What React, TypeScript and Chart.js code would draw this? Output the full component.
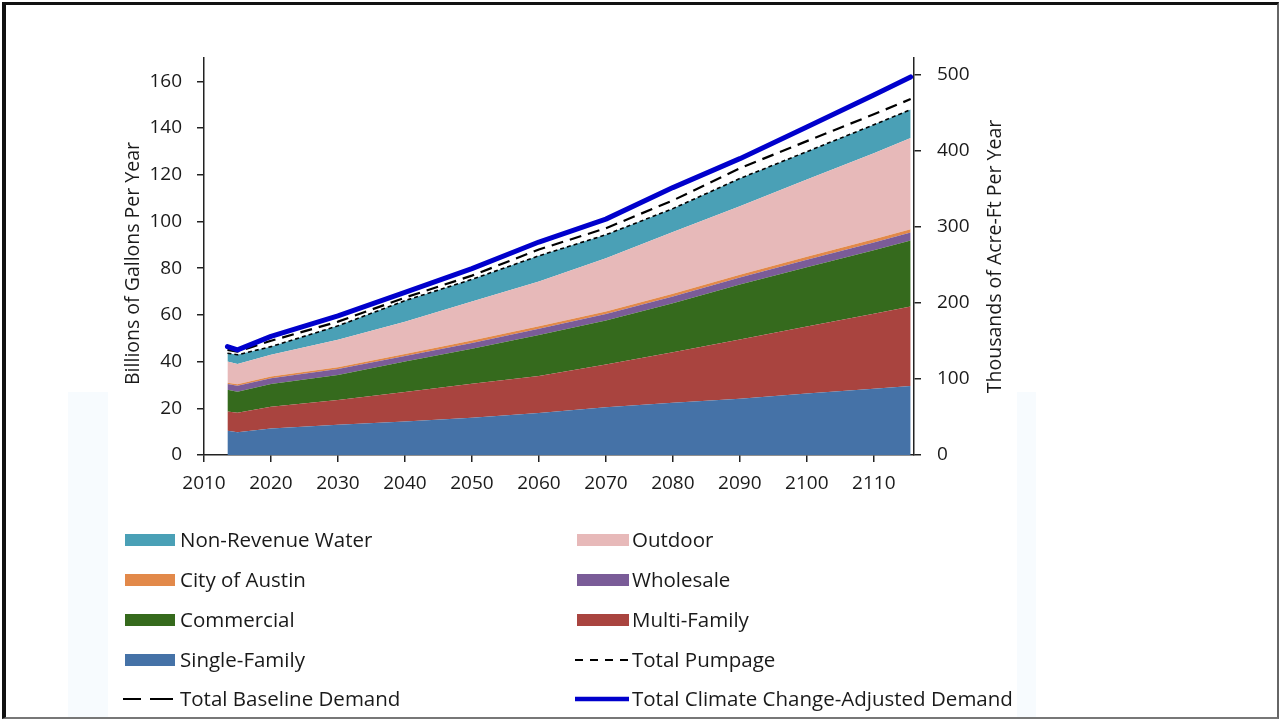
import React, { useEffect, useRef } from 'react';
import { Chart, registerables } from 'chart.js';

Chart.register(...registerables);

// ---- Data (billions of gallons per year) ----
const years = [2013.5, 2015, 2020, 2030, 2040, 2050, 2060, 2070, 2080, 2090, 2100, 2110, 2115.5];
const singleFamily = [10.4, 9.7, 11.4, 12.9, 14.3, 16.0, 18.0, 20.4, 22.4, 24.1, 26.3, 28.4, 29.6];
const multiFamily = [8.2, 8.4, 9.3, 10.7, 12.7, 14.5, 15.8, 18.4, 21.6, 25.4, 28.7, 32.1, 34.0];
const commercial = [9.3, 9.0, 9.7, 10.7, 13.0, 15.0, 17.6, 18.8, 21.0, 23.5, 25.4, 27.2, 28.3];
const wholesale = [2.5, 2.6, 2.5, 2.5, 2.4, 2.5, 2.7, 2.8, 2.9, 3.0, 3.2, 3.3, 3.4];
const cityOfAustin = [0.5, 0.6, 0.7, 0.8, 0.9, 1.0, 1.0, 1.1, 1.2, 1.2, 1.3, 1.4, 1.4];
const outdoor = [9.1, 8.7, 9.3, 11.7, 13.8, 16.7, 19.2, 22.8, 26.4, 29.3, 33.1, 36.8, 39.0];
const nonRevenueWater = [3.6, 3.9, 3.5, 6.0, 9.0, 9.5, 11.0, 10.0, 10.0, 11.9, 11.9, 12.2, 12.2];
const totalPumpage = [43.6, 42.9, 46.4, 55.3, 66.1, 75.2, 85.3, 94.3, 105.5, 118.4, 129.9, 141.4, 147.9];
const totalBaselineDemand = [45.0, 44.3, 48.9, 57.1, 67.4, 76.8, 88.0, 97.1, 109.0, 122.8, 134.4, 145.9, 152.4];
const totalClimateDemand = [46.4, 45.0, 50.8, 59.6, 69.6, 79.8, 91.2, 101.0, 114.5, 126.9, 140.5, 154.2, 161.9];

const leftAxisTitle = 'Billions of Gallons Per Year';
const rightAxisTitle = 'Thousands of Acre-Ft Per Year';
const leftMax = 170;
const kafPerBillionGallons = 3.0689; // 1e9 gal / 325,851 gal per acre-ft / 1000
const xMin = 2010;
const xMax = 2116;

const FONT = '"Open Sans", "DejaVu Sans", sans-serif';
const TEXT = '#1a1a1a';

type Area = { label: string; data: number[]; color: string };
const areas: Area[] = [
  { label: 'Single-Family', data: singleFamily, color: '#4572A7' },
  { label: 'Multi-Family', data: multiFamily, color: '#A9443F' },
  { label: 'Commercial', data: commercial, color: '#356A1D' },
  { label: 'Wholesale', data: wholesale, color: '#7A5C98' },
  { label: 'City of Austin', data: cityOfAustin, color: '#E2894A' },
  { label: 'Outdoor', data: outdoor, color: '#E7B9B9' },
  { label: 'Non-Revenue Water', data: nonRevenueWater, color: '#4AA0B6' },
];

type LineDef = { label: string; data: number[]; color: string; width: number; dash: number[]; legendDash: string };
const lines: LineDef[] = [
  { label: 'Total Pumpage', data: totalPumpage, color: '#000000', width: 1.6, dash: [4, 3], legendDash: '8 7' },
  { label: 'Total Baseline Demand', data: totalBaselineDemand, color: '#000000', width: 2.2, dash: [12, 7], legendDash: '18 9 23' },
  { label: 'Total Climate Change-Adjusted Demand', data: totalClimateDemand, color: '#0000CC', width: 5, dash: [], legendDash: '' },
];

const pts = (arr: number[]) => years.map((x, i) => ({ x, y: arr[i] }));

const titlePlugin = {
  id: 'rotTitles',
  afterDraw(chart: any) {
    const ctx = chart.ctx;
    ctx.save();
    ctx.fillStyle = TEXT;
    ctx.font = `19.5px ${FONT}`;
    ctx.textAlign = 'center';
    ctx.textBaseline = 'middle';
    const draw = (text: string, x: number, y: number) => {
      ctx.save();
      ctx.translate(x, y);
      ctx.rotate(-Math.PI / 2);
      ctx.fillText(text, 0, 0);
      ctx.restore();
    };
    const ca = chart.chartArea;
    draw(leftAxisTitle, 133, (ca.top + ca.bottom) / 2 + 7);
    draw(rightAxisTitle, 995, (ca.top + ca.bottom) / 2);
    ctx.restore();
  },
};

export default function App() {
  const ref = useRef<HTMLCanvasElement>(null);

  useEffect(() => {
    const canvas = ref.current;
    if (!canvas) return;
    const datasets: any[] = [];
    areas.forEach((a, i) => {
      datasets.push({
        type: 'line',
        label: a.label,
        data: pts(a.data),
        backgroundColor: a.color,
        borderColor: a.color,
        borderWidth: 0,
        pointRadius: 0,
        tension: 0,
        fill: i === 0 ? 'origin' : '-1',
        stack: 'demand',
        yAxisID: 'y',
      });
    });
    lines.forEach((l, i) => {
      datasets.push({
        type: 'line',
        label: l.label,
        data: pts(l.data),
        borderColor: l.color,
        backgroundColor: l.color,
        borderWidth: l.width,
        borderDash: l.dash,
        borderCapStyle: l.dash.length ? 'butt' : 'round',
        borderJoinStyle: 'round',
        pointRadius: 0,
        tension: 0,
        fill: false,
        stack: 'line' + i,
        order: -1 - i,
        clip: 10,
        yAxisID: 'y',
      });
    });

    const tickFont = { family: FONT, size: 19 };
    const chart = new Chart(canvas, {
      type: 'line',
      data: { datasets },
      plugins: [titlePlugin],
      options: {
        animation: false,
        responsive: false,
        maintainAspectRatio: false,
        devicePixelRatio: 1,
        layout: { padding: { top: 58, left: 0, right: 0, bottom: 0 } },
        plugins: { legend: { display: false }, tooltip: { enabled: false } },
        elements: { line: { tension: 0 } },
        scales: {
          x: {
            type: 'linear',
            min: xMin,
            max: xMax,
            afterFit: (s: any) => { s.height = 264; },
            grid: { drawOnChartArea: false, drawTicks: true, tickLength: 7, color: '#222', lineWidth: 1.5 },
            border: { display: true, color: '#222', width: 1.5 },
            ticks: {
              stepSize: 10,
              includeBounds: false,
              autoSkip: false,
              maxRotation: 0,
              padding: 10,
              color: TEXT,
              font: tickFont,
              callback: (v: any) => String(v),
            },
          },
          y: {
            type: 'linear',
            position: 'left',
            stacked: true,
            min: 0,
            max: leftMax,
            afterFit: (s: any) => { s.width = 204; },
            grid: { drawOnChartArea: false, drawTicks: true, tickLength: 7, color: '#222', lineWidth: 1.5 },
            border: { display: true, color: '#222', width: 1.5 },
            ticks: { stepSize: 20, includeBounds: false, padding: 15, color: TEXT, font: tickFont },
          },
          y2: {
            type: 'linear',
            position: 'right',
            min: 0,
            max: leftMax * kafPerBillionGallons,
            afterFit: (s: any) => { s.width = 367; },
            grid: { drawOnChartArea: false, drawTicks: true, tickLength: 7, color: '#222', lineWidth: 1.5 },
            border: { display: true, color: '#222', width: 1.5 },
            ticks: { stepSize: 100, includeBounds: false, padding: 16, color: TEXT, font: tickFont },
          },
        },
      } as any,
    });
    return () => chart.destroy();
  }, []);

  const legendOrder: any[] = [
    { kind: 'area', item: areas[6] },
    { kind: 'area', item: areas[5] },
    { kind: 'area', item: areas[4] },
    { kind: 'area', item: areas[3] },
    { kind: 'area', item: areas[2] },
    { kind: 'area', item: areas[1] },
    { kind: 'area', item: areas[0] },
    { kind: 'line', item: lines[0] },
    { kind: 'line', item: lines[1] },
    { kind: 'line', item: lines[2] },
  ];

  const rowCenters = [539.5, 579.5, 619.5, 659.5, 698.5];
  const cols = [
    { swatchLeft: 125, swatchWidth: 50, textLeft: 180 },
    { swatchLeft: 577, swatchWidth: 52, textLeft: 632 },
  ];

  return (
    <div style={{ position: 'fixed', left: 0, top: 0, width: 1281, height: 719, background: '#ffffff', overflow: 'hidden', fontFamily: FONT }}>
      <div style={{ position: 'absolute', left: 68, top: 392, width: 40, height: 327, background: '#F7FBFE' }} />
      <div style={{ position: 'absolute', left: 1017, top: 392, width: 19, height: 327, background: '#F7FBFE' }} />
      <canvas ref={ref} width={1281} height={719} style={{ position: 'absolute', left: 0, top: 0, width: 1281, height: 719 }} />
      {legendOrder.map((entry, idx) => {
        const row = Math.floor(idx / 2);
        const col = cols[idx % 2];
        const cy = rowCenters[row];
        const it = entry.item;
        let swatch: any;
        if (entry.kind === 'area') {
          swatch = (
            <div style={{ position: 'absolute', left: col.swatchLeft, top: cy - 6, width: col.swatchWidth, height: 12, background: it.color }} />
          );
        } else {
          const w = col.swatchWidth + 2;
          swatch = (
            <svg style={{ position: 'absolute', left: col.swatchLeft - 2, top: cy - 6 }} width={w} height={12}>
              <line x1={0} y1={6} x2={w} y2={6} stroke={it.color} strokeWidth={it.dash.length ? 2.2 : 4.5} strokeDasharray={it.legendDash || undefined} />
            </svg>
          );
        }
        return (
          <React.Fragment key={idx}>
            {swatch}
            <div style={{ position: 'absolute', left: col.textLeft, top: cy - 12.8, height: 24, lineHeight: '24px', fontSize: 20.5, color: TEXT, whiteSpace: 'nowrap' }}>
              {it.label}
            </div>
          </React.Fragment>
        );
      })}
      <div style={{ position: 'absolute', left: 2, top: 2, width: 1277, height: 717, boxSizing: 'border-box', borderLeft: '4px solid #111', borderTop: '3px solid #111', borderRight: '2px solid #666', borderBottom: '2px solid #777', pointerEvents: 'none' }} />
    </div>
  );
}
